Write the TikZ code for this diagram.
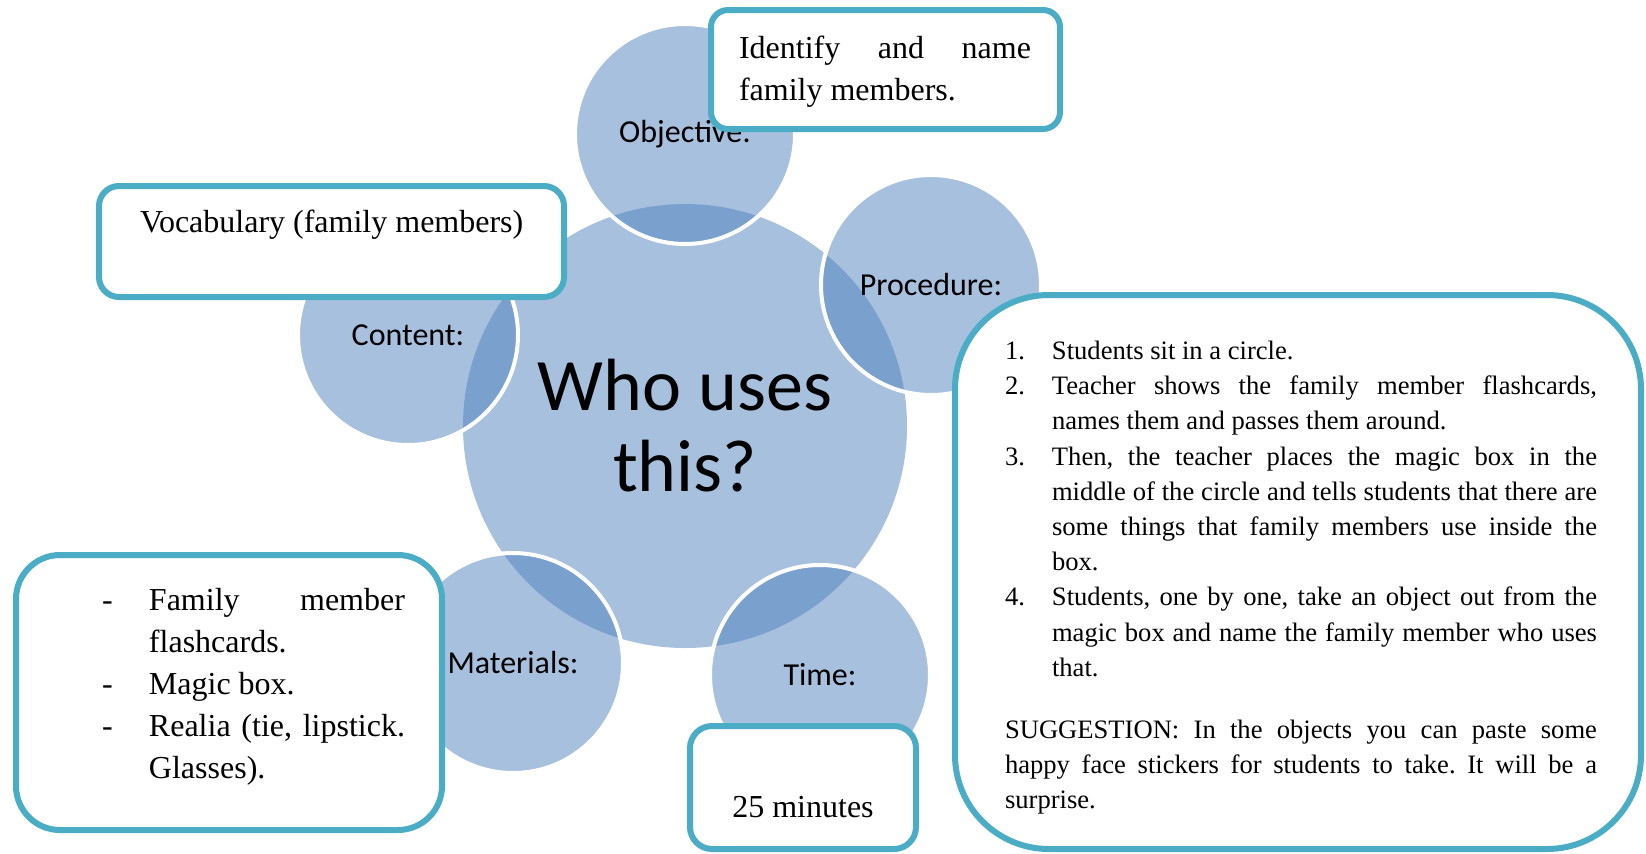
\documentclass[tikz,border=0pt]{standalone}
\usepackage{fontspec}
\setmainfont{Liberation Serif}
\newfontfamily\calibri{Carlito}
\usetikzlibrary{positioning}
\definecolor{petalblue}{HTML}{4F81BD}
\definecolor{framecyan}{HTML}{4BACC6}
\tolerance=10000
\hyphenpenalty=10000
\exhyphenpenalty=10000
\frenchspacing
\newcommand{\noshrink}{\fontdimen4\font=0pt\relax}
\newcommand{\hangitem}[2]{\noindent\hangindent=23.5pt\hangafter=1\makebox[23.5pt][l]{#1}#2\par}

\begin{document}
\begin{tikzpicture}[x=0.5pt,y=0.5pt]
    \tikzstyle{every node}=[inner sep=0,outer sep=0]
    \tikzstyle{hub}=[circle,fill=petalblue,fill opacity=0.5,text opacity=1,minimum size=222pt,align=center,font=\calibri\fontsize{37}{40.5}\selectfont]
    \tikzstyle{petal}=[circle,fill=petalblue,fill opacity=0.5,text opacity=1,draw=white,draw opacity=1,line width=2pt,minimum size=110pt,font=\calibri\fontsize{16}{19}\selectfont]
    \tikzstyle{frame}=[rectangle,draw=framecyan,line width=3pt,fill=white]
    \tikzstyle{body}=[font=\fontsize{16}{21}\selectfont\noshrink]
    \tikzstyle{small body}=[font=\fontsize{13.3}{17.6}\selectfont\noshrink]

    \useasboundingbox (0,0) rectangle (1646,-853);

    \node[hub] (who) at (685,-426) {Who uses\\this?};

    \node[petal] (objective) at (685,-134) {Objective:};
    \node[petal] (procedure) at (931,-285) {Procedure:};
    \node[petal] (time) at (820,-675) {Time:};
    \node[petal] (materials) at (513,-663) {Materials:};
    \node[petal] (content) at (408,-335) {Content:};

    \node[frame,rounded corners=8.5pt,minimum width=174.5pt,minimum height=59.5pt] (objbox) at (885.5,-69.5) {};
    \node[frame,rounded corners=10pt,minimum width=232.5pt,minimum height=55.5pt] (conbox) at (331.5,-241.5) {};
    \node[frame,rounded corners=22pt,minimum width=213pt,minimum height=137.5pt] (matbox) at (229,-692.5) {};
    \node[frame,rounded corners=11pt,minimum width=113pt,minimum height=61.5pt] (timebox) at (803,-787.5) {};
    \node[frame,rounded corners=47pt,minimum width=343pt,minimum height=277pt] (procbox) at (1298,-572) {};

    \node[body,align=justify,text width=146pt,anchor=north west] (objtext) at (739,-36) {Identify and name family members.};
    \node[body,anchor=base west] (context) at (140,-232) {Vocabulary (family members)};
    \node[body,align=justify,text width=151.5pt,anchor=north west] (mattext) at (102,-588) {%
        \hangitem{-}{Family member\linebreak flashcards.}%
        \hangitem{-}{Magic box.}%
        \hangitem{-}{Realia (tie, lipstick. Glasses).}};
    \node[body,anchor=base] (timetext) at (803,-817) {25 minutes};
    \node[small body,align=justify,text width=296pt,anchor=north west] (proctext) at (1005,-341) {%
        \hangitem{1.}{Students sit in a circle.}%
        \hangitem{2.}{Teacher shows the family member flashcards, names them and passes them around.}%
        \hangitem{3.}{Then, the teacher places the magic box in the middle of the circle and tells students that there are some things that family members use inside the box.}%
        \hangitem{4.}{Students, one by one, take an object out from the magic box and name the family member who uses that.}%
        \vskip13.4pt\noindent SUGGESTION: In the objects you can paste some happy face stickers for students to take. It will be a surprise.};
\end{tikzpicture}
\end{document}
